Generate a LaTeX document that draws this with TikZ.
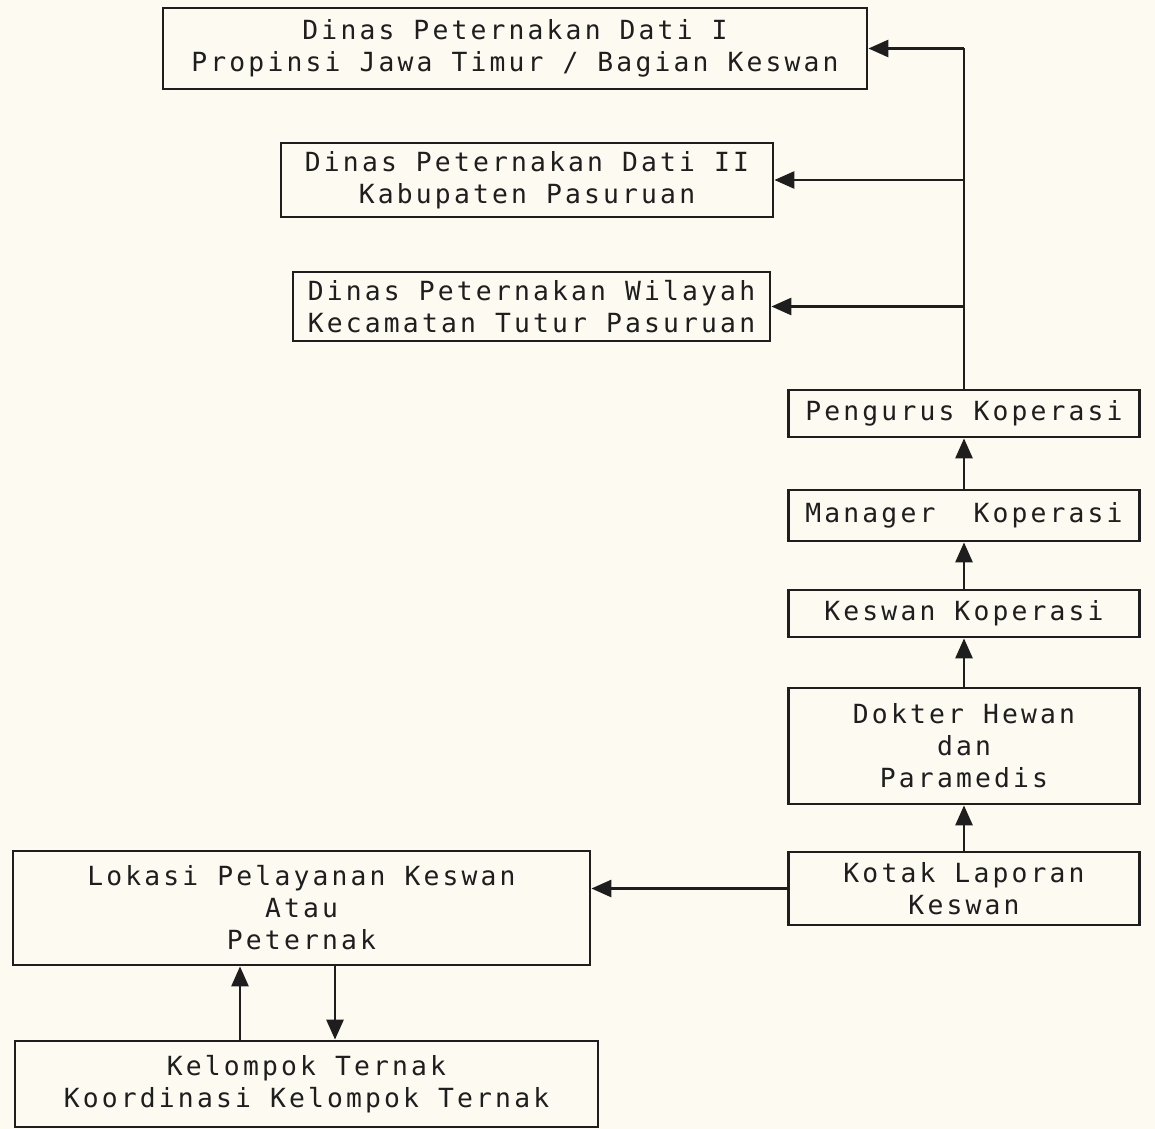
\documentclass[tikz,border=0pt]{standalone}
\usepackage{fontspec}
\usetikzlibrary{arrows.meta}
\newfontfamily\ketik[LetterSpace=12]{DejaVu Sans Mono}
\definecolor{kertas}{RGB}{252,250,241}
\definecolor{tinta}{RGB}{30,30,30}
\tikzset{
  kotak/.style={draw=tinta, line width=0.55mm, align=center, inner sep=0pt,
    text=tinta, font=\ketik\fontsize{15}{18.2}\selectfont},
  garis/.style={draw=tinta, line width=0.55mm},
  panah/.style={garis, -{Triangle[length=4mm,width=3.4mm]}}
}

\begin{document}
\begin{tikzpicture}[x=0.2mm,y=-0.2mm]
    \fill[kertas] (0,0) rectangle (1155,1129);
    \useasboundingbox (0,0) rectangle (1155,1129);

    \node[kotak, minimum width=140.8mm, minimum height=16.2mm] (dinasI) at (515,48.5)
      {Dinas Peternakan Dati I\\Propinsi Jawa Timur / Bagian Keswan};
    \node[kotak, minimum width=98.4mm, minimum height=14.8mm] (dinasII) at (527,180)
      {Dinas Peternakan Dati II\\Kabupaten Pasuruan};
    \node[kotak, minimum width=95.4mm, minimum height=13.8mm] (wilayah) at (531.5,306.5)
      {Dinas Peternakan Wilayah\\Kecamatan Tutur Pasuruan};

    \node[kotak, minimum width=70.2mm, minimum height=9.4mm] (pengurus) at (964,413.5)
      {Pengurus Koperasi};
    \node[kotak, minimum width=70.2mm, minimum height=10.2mm] (manager) at (964,515.5)
      {Manager~~Koperasi};
    \node[kotak, minimum width=70.2mm, minimum height=9.4mm] (keswan) at (964,613.5)
      {Keswan Koperasi};
    \node[kotak, minimum width=70.2mm, minimum height=23.2mm] (dokter) at (964,746)
      {Dokter Hewan\\dan\\Paramedis};
    \node[kotak, minimum width=70.2mm, minimum height=14.6mm] (kotak) at (964,888.5)
      {Kotak Laporan\\Keswan};

    \node[kotak, minimum width=115.4mm, minimum height=22.8mm] (lokasi) at (301.5,908)
      {Lokasi Pelayanan Keswan\\Atau\\Peternak};
    \node[kotak, minimum width=116.6mm, minimum height=17.2mm] (kelompok) at (306.5,1084)
      {Kelompok Ternak\\Koordinasi Kelompok Ternak};

    \coordinate (puncak) at (pengurus.north |- dinasI.east);
    \draw[garis] (pengurus.north) -- (puncak);
    \draw[panah] (puncak) -- (dinasI.east);
    \draw[panah] (pengurus.north |- dinasII.east) -- (dinasII.east);
    \draw[panah] (pengurus.north |- wilayah.east) -- (wilayah.east);

    \draw[panah] (manager.north) -- (pengurus.south);
    \draw[panah] (keswan.north) -- (manager.south);
    \draw[panah] (dokter.north) -- (keswan.south);
    \draw[panah] (kotak.north) -- (dokter.south);

    \draw[panah] (kotak.west) -- (kotak.west -| lokasi.east);
    \draw[panah] ([xshift=-13.3mm]kelompok.north) -- ([xshift=-13.3mm]kelompok.north |- lokasi.south);
    \draw[panah] ([xshift=6.7mm]lokasi.south) -- ([xshift=6.7mm]lokasi.south |- kelompok.north);
\end{tikzpicture}
\end{document}
